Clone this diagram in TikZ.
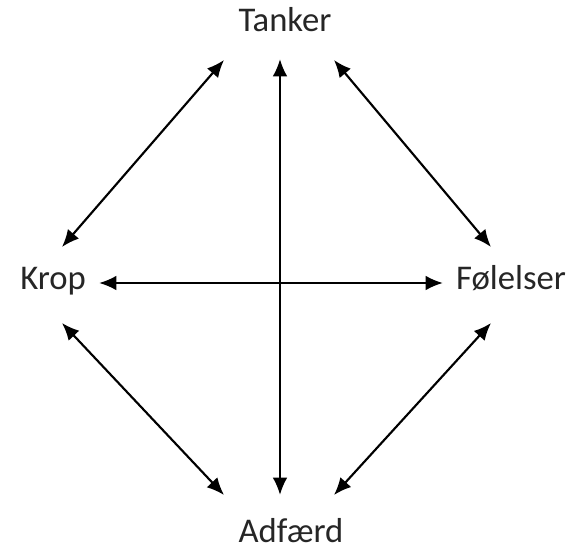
\documentclass[tikz,border=0pt]{standalone}
\usepackage{fontspec}
\setmainfont{Carlito}
\usetikzlibrary{arrows.meta}
\begin{document}
\begin{tikzpicture}[x=0.75pt,y=-0.75pt,
  lbl/.style={font=\fontsize{26}{30}\selectfont, text=black!85, inner sep=0pt, anchor=base},
  conn/.style={line width=1.6pt, {Latex[length=13pt,width=11pt]}-{Latex[length=13pt,width=11pt]}}]
\useasboundingbox (0,0) rectangle (578,549);
\node[lbl] (t) at (285,32) {Tanker};
\node[lbl] (a) at (291,542) {Adfærd};
\node[lbl] (k) at (53,289) {Krop};
\node[lbl] (f) at (511,289) {Følelser};
\coordinate (tl) at (224,60);
\coordinate (tm) at (280,59);
\coordinate (tr) at (334,60);
\coordinate (bl) at (224,495);
\coordinate (bm) at (280,495);
\coordinate (br) at (334,495);
\coordinate (kr) at (99,283);
\coordinate (ku) at (62,247);
\coordinate (kd) at (62,323);
\coordinate (fl) at (443,283);
\coordinate (fu) at (491,247);
\coordinate (fd) at (491,323);
\draw[conn] (tl) -- (ku);
\draw[conn] (tr) -- (fu);
\draw[conn] (tm) -- (bm);
\draw[conn] (kr) -- (fl);
\draw[conn] (kd) -- (bl);
\draw[conn] (fd) -- (br);
\end{tikzpicture}
\end{document}
